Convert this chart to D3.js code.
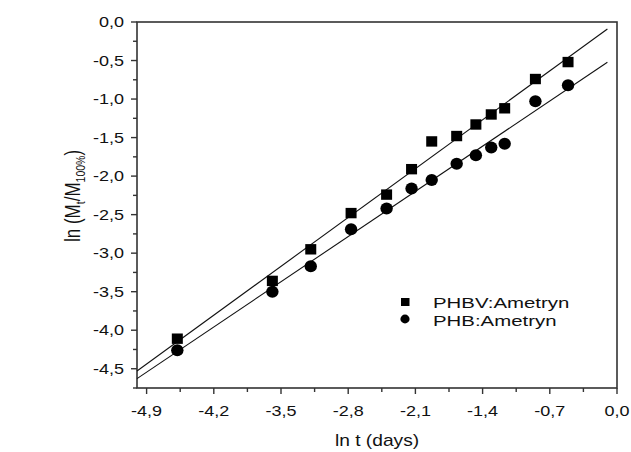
<!DOCTYPE html>
<html>
<head>
<meta charset="utf-8">
<script src="https://cdn.jsdelivr.net/npm/d3@7"></script>
<style>
  body { margin: 0; background: #fff; }
  text { font-family: "Liberation Sans", Arial, sans-serif; fill: #111; }
</style>
</head>
<body>
<svg id="chart" width="631" height="452"></svg>
<script>
// values
const lnT = [-4.58, -3.59, -3.19, -2.77, -2.40, -2.14, -1.93, -1.67, -1.47, -1.31, -1.17, -0.85, -0.51];
const phbv = [-4.11, -3.36, -2.95, -2.48, -2.24, -1.91, -1.55, -1.48, -1.33, -1.20, -1.12, -0.74, -0.52];
const phb = [-4.26, -3.50, -3.17, -2.69, -2.42, -2.16, -2.05, -1.84, -1.73, -1.63, -1.58, -1.03, -0.82];

// fitted lines: [slope, intercept]
const phbvFit = [0.906, 0.0];
const phbFit = [0.838, -0.438];
const fitRange = [-5.0, -0.1];

const xTicks = [-4.9, -4.2, -3.5, -2.8, -2.1, -1.4, -0.7, 0.0];
const yTicks = [0.0, -0.5, -1.0, -1.5, -2.0, -2.5, -3.0, -3.5, -4.0, -4.5];
const seriesNames = ['PHBV:Ametryn', 'PHB:Ametryn'];

const svg = d3.select('#chart');
const margin = { top: 22, right: 14, bottom: 64, left: 137 };
const width = 631, height = 452;
const sx = 1.2; // text in the original is stretched sideways

const x = d3.scaleLinear().domain([-5, 0]).range([margin.left, width - margin.right]);
const y = d3.scaleLinear().domain([-4.75, 0]).range([height - margin.bottom, margin.top]);

const loc = d3.formatLocale({ decimal: ',', thousands: '.', grouping: [3], currency: ['', ''], minus: '-' });
const fmt = loc.format('.1f');

const axisColor = '#333';

// frame
svg.append('rect')
    .attr('x', x(-5)).attr('y', y(0))
    .attr('width', x(0) - x(-5)).attr('height', y(-4.75) - y(0))
    .attr('fill', 'none').attr('stroke', axisColor).attr('stroke-width', 1.6);

// x ticks
const xMinor = xTicks.slice(0, -1).map(v => v + 0.35);
xTicks.forEach(v => {
    svg.append('line')
        .attr('x1', x(v)).attr('x2', x(v))
        .attr('y1', y(-4.75)).attr('y2', y(-4.75) + 6)
        .attr('stroke', axisColor).attr('stroke-width', 1.4);
    svg.append('text')
        .attr('transform', `translate(${x(v)},${y(-4.75) + 28}) scale(${sx},1)`)
        .attr('text-anchor', 'middle')
        .attr('font-size', '15px')
        .text(fmt(v));
});
xMinor.forEach(v => {
    svg.append('line')
        .attr('x1', x(v)).attr('x2', x(v))
        .attr('y1', y(-4.75)).attr('y2', y(-4.75) + 4)
        .attr('stroke', axisColor).attr('stroke-width', 1.4);
});

// y ticks
const yMinor = yTicks.map(v => v - 0.25);
yTicks.forEach(v => {
    svg.append('line')
        .attr('x1', x(-5) - 6).attr('x2', x(-5))
        .attr('y1', y(v)).attr('y2', y(v))
        .attr('stroke', axisColor).attr('stroke-width', 1.4);
    svg.append('text')
        .attr('transform', `translate(${x(-5) - 13},${y(v) + 5}) scale(${sx},1)`)
        .attr('text-anchor', 'end')
        .attr('font-size', '15px')
        .text(fmt(v));
});
yMinor.forEach(v => {
    svg.append('line')
        .attr('x1', x(-5) - 4).attr('x2', x(-5))
        .attr('y1', y(v)).attr('y2', y(v))
        .attr('stroke', axisColor).attr('stroke-width', 1.4);
});

// fit lines
[phbvFit, phbFit].forEach(f => {
    svg.append('line')
        .attr('x1', x(fitRange[0])).attr('y1', y(f[0] * fitRange[0] + f[1]))
        .attr('x2', x(fitRange[1])).attr('y2', y(f[0] * fitRange[1] + f[1]))
        .attr('stroke', '#111').attr('stroke-width', 1.1);
});

// markers
svg.append('g').selectAll('rect')
    .data(lnT.map((t, i) => [t, phbv[i]]))
    .join('rect')
    .attr('x', d => x(d[0]) - 5.5).attr('y', d => y(d[1]) - 5.2)
    .attr('width', 11).attr('height', 10.4)
    .attr('fill', '#000');

svg.append('g').selectAll('ellipse')
    .data(lnT.map((t, i) => [t, phb[i]]))
    .join('ellipse')
    .attr('cx', d => x(d[0])).attr('cy', d => y(d[1]))
    .attr('rx', 6.2).attr('ry', 6)
    .attr('fill', '#000');

// legend
const lg = svg.append('g');
lg.append('rect').attr('x', 401).attr('y', 298).attr('width', 8.5).attr('height', 8).attr('fill', '#000');
lg.append('ellipse').attr('cx', 405).attr('cy', 319).attr('rx', 4.6).attr('ry', 4.4).attr('fill', '#000');
seriesNames.forEach((name, i) => {
    lg.append('text')
        .attr('transform', `translate(433,${308 + i * 17.5}) scale(1.36,1)`)
        .attr('font-size', '15px')
        .text(name);
});

// axis titles
svg.append('text')
    .attr('transform', `translate(${(x(-5) + x(0)) / 2},446) scale(${sx},1)`)
    .attr('text-anchor', 'middle')
    .attr('font-size', '16px')
    .text('ln t (days)');

const yl = svg.append('text')
    .attr('transform', `translate(80,196) rotate(-90) scale(1,1.25)`)
    .attr('text-anchor', 'middle')
    .attr('font-size', '17px');
yl.append('tspan').text('ln (M');
yl.append('tspan').attr('font-size', '10.5px').attr('dy', 4).text('t');
yl.append('tspan').attr('dy', -4).text('/M');
yl.append('tspan').attr('font-size', '10.5px').attr('dy', 4).text('100%');
yl.append('tspan').attr('dy', -4).text(')');
</script>
</body>
</html>
